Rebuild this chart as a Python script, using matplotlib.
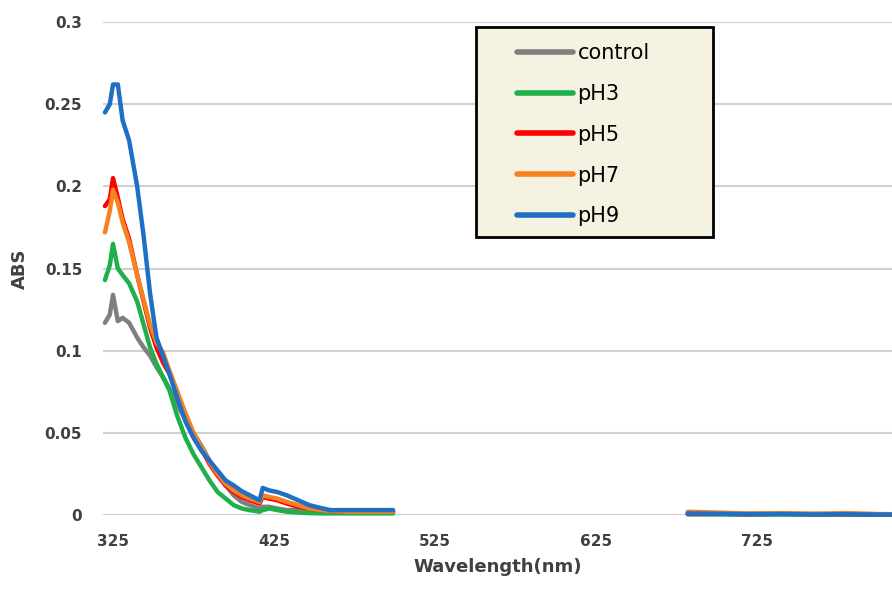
import numpy as np
import matplotlib
matplotlib.use('Agg')
import matplotlib.pyplot as plt
from matplotlib.patches import Rectangle

nan = np.nan

# wavelength grid (nm); nan entry splits the two measured segments
wavelength = [320, 323, 325, 328, 331, 335, 340, 344, 348, 352, 356, 360, 365, 370,
              375, 380, 385, 390, 395, 400, 405, 410, 416, 418, 422, 427, 433, 440,
              447, 454, 460, 470, 480, 490, 499, 590, 682, 700, 720, 740, 760, 780,
              800, 809]

control = [.117, .122, .134, .118, .120, .117, .108, .102, .097, .090, .084, .077, .067, .058,
           .050, .042, .033, .025, .018, .012, .008, .006, .004, .005, .005, .004, .003, .003,
           .002, .002, .002, .002, .002, .002, .002, nan, .0005, .0005, .0004, .0005, .0004, .0004,
           .0003, .0003]
ph3 = [.143, .152, .165, .150, .146, .141, .130, .116, .102, .092, .084, .076, .060, .047,
       .037, .029, .021, .014, .010, .006, .004, .003, .002, .003, .004, .003, .002, .0015,
       .0012, .001, .001, .001, .001, .001, .001, nan, .0005, .0005, .0004, .0005, .0004, .0004,
       .0003, .0003]
ph5 = [.188, .192, .205, .193, .180, .168, .146, .130, .114, .102, .093, .086, .074, .061,
       .049, .040, .031, .024, .018, .014, .011, .009, .007, .011, .010, .009, .007, .005,
       .004, .003, .0025, .002, .002, .002, .002, nan, .0008, .0008, .0006, .0008, .0006, .0006,
       .0005, .0005]
ph7 = [.172, .185, .198, .190, .178, .166, .146, .131, .116, .105, .099, .088, .075, .062,
       .050, .041, .032, .025, .019, .015, .012, .010, .008, .012, .011, .010, .008, .006,
       .004, .003, .0025, .002, .002, .002, .002, nan, .002, .0015, .001, .0012, .0008, .0012,
       .0006, .0005]
ph9 = [.245, .250, .262, .262, .240, .228, .200, .170, .135, .108, .097, .086, .071, .057,
       .047, .039, .033, .027, .021, .018, .0145, .012, .009, .0165, .015, .014, .012, .009,
       .006, .0043, .003, .003, .003, .003, .003, nan, .001, .0008, .0005, .0006, .0004, .0005,
       .0003, .0003]

labels = ['control', 'pH3', 'pH5', 'pH7', 'pH9']
series = [control, ph3, ph5, ph7, ph9]
colors = ['#7f7f7f', '#1faf4b', '#ff0000', '#f5821f', '#1f6fc5']

x_ticks = [325, 425, 525, 625, 725]
y_ticks = [0, 0.05, 0.1, 0.15, 0.2, 0.25, 0.3]
y_tick_labels = ['0', '0.05', '0.1', '0.15', '0.2', '0.25', '0.3']

fig = plt.figure(figsize=(8.92, 5.92), dpi=100)
ax = fig.add_axes([0.1155, 0.130, 0.8845, 0.8328])

handles = []
for vals, lab, col in zip(series, labels, colors):
    ln, = ax.plot(wavelength, vals, color=col, lw=3.2, label=lab,
                  solid_capstyle='round', clip_on=False, zorder=3)
    handles.append(ln)

ax.set_xlim(318.8, 808.9)
ax.set_ylim(0, 0.3)
ax.set_xticks(x_ticks)
ax.set_yticks(y_ticks)
ax.set_yticklabels(y_tick_labels)
ax.grid(axis='y', color='#d0d0d0', lw=1.5, zorder=0)
ax.grid(axis='x', visible=False)
for s in ax.spines.values():
    s.set_visible(False)
ax.tick_params(axis='both', length=0, labelcolor='#404040', labelsize=11)
ax.tick_params(axis='x', pad=14)
ax.tick_params(axis='y', pad=15)
for t in ax.get_xticklabels() + ax.get_yticklabels():
    t.set_fontweight('bold')

ax.set_xlabel('Wavelength(nm)', fontsize=13, fontweight='bold', color='#404040', labelpad=6)
ax.set_ylabel('ABS', fontsize=13, fontweight='bold', color='#404040', labelpad=11)

# legend box
fig.add_artist(Rectangle((476 / 892, 1 - 237 / 592), 237 / 892, 210 / 592,
                         transform=fig.transFigure, facecolor='#f6f2e2',
                         edgecolor='black', lw=2, zorder=2))
leg = fig.legend(handles, labels, loc='upper left',
                 bbox_to_anchor=(517 / 892, 1 - 43 / 592), bbox_transform=fig.transFigure,
                 frameon=False, borderpad=0, borderaxespad=0, fontsize=15,
                 handlelength=2.7, handletextpad=0.2, labelspacing=1.0)
leg.set_zorder(5)
for ln in leg.get_lines():
    ln.set_linewidth(4)

fig.savefig('out.png', dpi=100)
